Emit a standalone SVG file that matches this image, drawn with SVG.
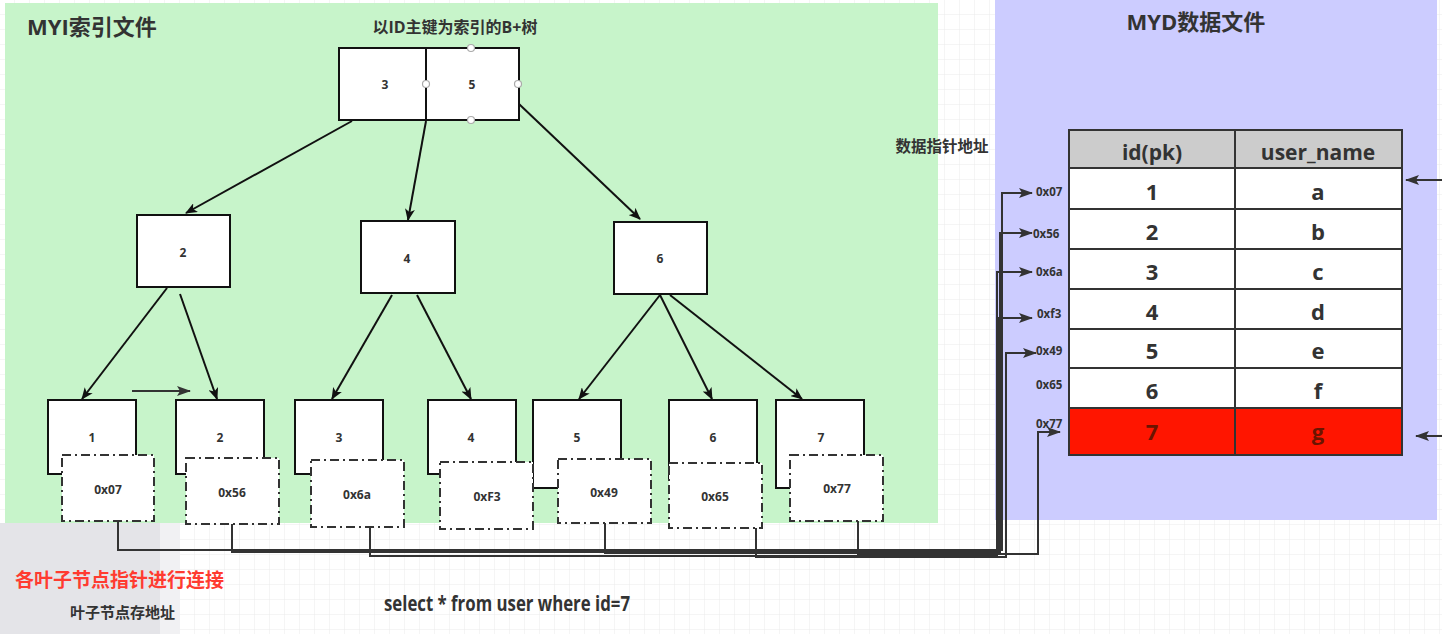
<svg xmlns="http://www.w3.org/2000/svg" width="1442" height="634" viewBox="0 0 1442 634">
<style>
.box{fill:#fff;stroke:#111;stroke-width:2}
.dbox{fill:#fff;stroke:#333;stroke-width:2;stroke-dasharray:9 4 2 4}
.num{font-family:"Open Sans","Liberation Sans",sans-serif;font-weight:bold;font-size:12px;fill:#333;text-anchor:middle;dominant-baseline:central}
.ptr{font-family:"Open Sans","Liberation Sans",sans-serif;font-weight:bold;font-size:11.5px;fill:#333;dominant-baseline:central}
.cell{font-family:"Open Sans","Liberation Sans",sans-serif;font-weight:bold;font-size:22px;fill:#333;text-anchor:middle;dominant-baseline:central}
.hdr{font-family:"Open Sans","Liberation Sans",sans-serif;font-weight:bold;font-size:21px;fill:#333;text-anchor:middle;dominant-baseline:central}
.title{font-family:"Open Sans","Noto Sans CJK SC",sans-serif;font-weight:bold;fill:#333}
.edge{fill:none;stroke:#111;stroke-width:2}
.link{fill:none;stroke:#333;stroke-width:2}
.handle{fill:#fff;stroke:#aaa;stroke-width:1.2}
</style>
<defs>
<pattern id="grid" width="15" height="15" patternUnits="userSpaceOnUse">
<path d="M15 0V15M0 15H15" fill="none" stroke="#ebebeb" stroke-width="1"/>
</pattern>
<marker id="ah" viewBox="0 0 12 10" refX="11" refY="5" markerWidth="12" markerHeight="10" orient="auto" markerUnits="userSpaceOnUse">
<path d="M0,0 L12,5 L0,10 L3,5 z" fill="#111"/>
</marker>
<marker id="ah2" viewBox="0 0 14 10" refX="13" refY="5" markerWidth="14" markerHeight="10" orient="auto" markerUnits="userSpaceOnUse">
<path d="M0,0 L14,5 L0,10 L3,5 z" fill="#333"/>
</marker>
</defs>
<rect x="0" y="0" width="1442" height="634" fill="#fff"/>
<rect x="0" y="0" width="1442" height="634" fill="url(#grid)"/>
<rect x="0" y="523" width="160" height="111" fill="#e4e4e8"/>
<rect x="160" y="523" width="20" height="111" fill="#f1f1f3"/>
<rect x="5" y="3" width="933" height="520" fill="#c7f4ca"/>
<rect x="995" y="0" width="442" height="520" fill="#ccccff"/>

<text class="title" x="27" y="35" font-size="22">MYI索引文件</text>
<text class="title" x="455" y="33" font-size="16" text-anchor="middle">以ID主键为索引的B+树</text>
<text class="title" x="1196" y="30" font-size="22" text-anchor="middle">MYD数据文件</text>
<text class="title" x="942" y="152" font-size="15.5" text-anchor="middle">数据指针地址</text>
<text class="title" x="15" y="587" font-size="19" style="fill:#ff3b30">各叶子节点指针进行连接</text>
<text class="title" x="70" y="618" font-size="15">叶子节点存地址</text>
<text class="title" x="384" y="611" font-size="22" textLength="246" lengthAdjust="spacingAndGlyphs">select * from user where id=7</text>

<g id="connectors">
<path class="edge" d="M352,121 L186,213" marker-end="url(#ah)"/>
<path class="edge" d="M426,121 L408,220" marker-end="url(#ah)"/>
<path class="edge" d="M519,104 L640,219" marker-end="url(#ah)"/>
<path class="edge" d="M167,288 L82,399" marker-end="url(#ah)"/>
<path class="edge" d="M180,294 L217,399" marker-end="url(#ah)"/>
<path class="edge" d="M392,295 L332,399" marker-end="url(#ah)"/>
<path class="edge" d="M417,295 L471,399" marker-end="url(#ah)"/>
<path class="edge" d="M660,295 L579,399" marker-end="url(#ah)"/>
<path class="edge" d="M660,295 L712,399" marker-end="url(#ah)"/>
<path class="edge" d="M670,295 L802,399" marker-end="url(#ah)"/>
<path class="link" d="M132,391 L190,391" marker-end="url(#ah2)"/>
<path class="link" d="M118,521 V550 H1002 V193 H1032" marker-end="url(#ah2)"/>
<path class="link" d="M232,524 V552 H1000 V233 H1032" marker-end="url(#ah2)"/>
<path class="link" d="M370,527 V556 H997 V272 H1032" marker-end="url(#ah2)"/>
<path class="link" d="M605,523 V553 H999 V318 H1032" marker-end="url(#ah2)"/>
<path class="link" d="M756,528 V557 H1006 V353 H1036" marker-end="url(#ah2)"/>
<path class="link" d="M858,521 V554 H1038 V432 H1060" marker-end="url(#ah2)"/>
<path class="link" d="M1442,180 H1406" marker-end="url(#ah2)"/>
<path class="link" d="M1442,436 H1416" marker-end="url(#ah2)"/>
</g>

<g id="root">
<rect class="box" x="339" y="48" width="180" height="72"/>
<line x1="426" y1="48" x2="426" y2="120" stroke="#111" stroke-width="2"/>
<text class="num" x="385" y="84">3</text>
<text class="num" x="472" y="84">5</text>
<circle class="handle" cx="471" cy="48" r="3.5"/>
<circle class="handle" cx="426" cy="84" r="3.5"/>
<circle class="handle" cx="518" cy="84" r="3.5"/>
<circle class="handle" cx="471" cy="120" r="3.5"/>
</g>
<g id="node-2"><rect class="box" x="137" y="215" width="93" height="72"/><text class="num" x="183" y="252">2</text></g>
<g id="node-4"><rect class="box" x="361" y="221" width="94" height="72"/><text class="num" x="407" y="258">4</text></g>
<g id="node-6"><rect class="box" x="614" y="222" width="93" height="72"/><text class="num" x="660" y="258">6</text></g>

<g id="leaf-1"><rect class="box" x="48" y="400" width="88" height="74"/><text class="num" x="92" y="437">1</text></g>
<g id="leaf-2"><rect class="box" x="176" y="400" width="88" height="74"/><text class="num" x="220" y="437">2</text></g>
<g id="leaf-3"><rect class="box" x="295" y="400" width="88" height="74"/><text class="num" x="339" y="437">3</text></g>
<g id="leaf-4"><rect class="box" x="428" y="400" width="88" height="74"/><text class="num" x="471" y="437">4</text></g>
<g id="leaf-5"><rect class="box" x="533" y="400" width="88" height="88"/><text class="num" x="577" y="437">5</text></g>
<g id="leaf-6"><rect class="box" x="669" y="400" width="88" height="80"/><text class="num" x="713" y="437">6</text></g>
<g id="leaf-7"><rect class="box" x="776" y="400" width="88" height="88"/><text class="num" x="821" y="437">7</text></g>

<g id="addr-0x07"><rect class="dbox" x="62" y="455" width="92" height="66"/><text class="num" x="108" y="489">0x07</text></g>
<g id="addr-0x56"><rect class="dbox" x="186" y="458" width="93" height="66"/><text class="num" x="232" y="492">0x56</text></g>
<g id="addr-0x6a"><rect class="dbox" x="311" y="460" width="93" height="67"/><text class="num" x="357" y="494">0x6a</text></g>
<g id="addr-0xF3"><rect class="dbox" x="440" y="462" width="93" height="67"/><text class="num" x="487" y="496">0xF3</text></g>
<g id="addr-0x49"><rect class="dbox" x="558" y="459" width="93" height="64"/><text class="num" x="604" y="492">0x49</text></g>
<g id="addr-0x65"><rect class="dbox" x="669" y="463" width="93" height="65"/><text class="num" x="715" y="496">0x65</text></g>
<g id="addr-0x77"><rect class="dbox" x="790" y="455" width="93" height="66"/><text class="num" x="837" y="488">0x77</text></g>

<g id="pointer-labels">
<text class="ptr" x="1036" y="191">0x07</text>
<text class="ptr" x="1033" y="233">0x56</text>
<text class="ptr" x="1036" y="271">0x6a</text>
<text class="ptr" x="1037" y="313">0xf3</text>
<text class="ptr" x="1036" y="350">0x49</text>
<text class="ptr" x="1036" y="384">0x65</text>
<text class="ptr" x="1036" y="423">0x77</text>
</g>

<g id="table">
<rect x="1069" y="130" width="333" height="38" fill="#cccccc" stroke="#333" stroke-width="2"/>
<rect x="1069" y="168" width="333" height="240" fill="#fff" stroke="#333" stroke-width="2"/>
<rect x="1069" y="408" width="333" height="47" fill="#ff1500" stroke="#333" stroke-width="2"/>
<g stroke="#333" stroke-width="2">
<line x1="1235" y1="130" x2="1235" y2="455"/>
<line x1="1069" y1="209" x2="1402" y2="209"/>
<line x1="1069" y1="249" x2="1402" y2="249"/>
<line x1="1069" y1="289" x2="1402" y2="289"/>
<line x1="1069" y1="329" x2="1402" y2="329"/>
<line x1="1069" y1="368" x2="1402" y2="368"/>
</g>
<text class="hdr" x="1152" y="152">id(pk)</text>
<text class="hdr" x="1318" y="152">user_name</text>
<text class="cell" x="1152" y="191">1</text><text class="cell" x="1318" y="191">a</text>
<text class="cell" x="1152" y="231">2</text><text class="cell" x="1318" y="231">b</text>
<text class="cell" x="1152" y="271">3</text><text class="cell" x="1318" y="271">c</text>
<text class="cell" x="1152" y="311">4</text><text class="cell" x="1318" y="311">d</text>
<text class="cell" x="1152" y="350">5</text><text class="cell" x="1318" y="350">e</text>
<text class="cell" x="1152" y="390">6</text><text class="cell" x="1318" y="390">f</text>
<text class="cell" x="1152" y="431" style="fill:#6a1400">7</text><text class="cell" x="1318" y="431" style="fill:#6a1400">g</text>
</g>
</svg>
